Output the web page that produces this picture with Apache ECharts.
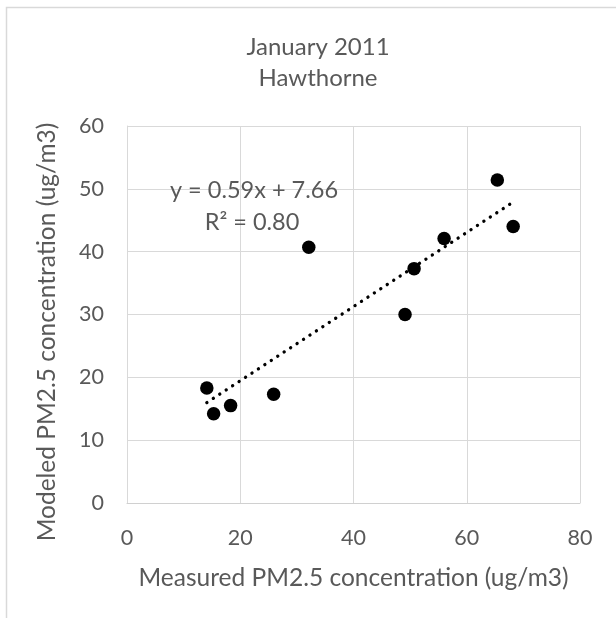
<!DOCTYPE html>
<html>
<head>
<meta charset="utf-8">
<script src="https://cdn.jsdelivr.net/npm/echarts@6/dist/echarts.min.js"></script>
<style>
    html, body { margin: 0; padding: 0; background: #fff; }
    #chart { width: 616px; height: 618px; }
</style>
</head>
<body>
<div id="chart"></div>
<script>
    // measured vs modeled PM2.5, Hawthorne, Jan 2011
    var measured = [14.1, 15.3, 18.3, 25.9, 32.1, 49.1, 50.7, 56.0, 65.4, 68.2];
    var modeled = [18.3, 14.2, 15.5, 17.3, 40.7, 30.0, 37.3, 42.1, 51.4, 44.0];
    var xTicks = [0, 20, 40, 60, 80];
    var yTicks = [0, 10, 20, 30, 40, 50, 60];
    // trendline as printed on the chart
    var slope = 0.59;
    var intercept = 7.66;
    var rSquared = '0.80';

    var textColor = '#595959';
    var fontName = 'Lato';

    var points = measured.map(function (x, i) {
        return [x, modeled[i]];
    });
    var xMin = Math.min.apply(null, measured);
    var xMax = Math.max.apply(null, measured);
    var trend = [
        [xMin, slope * xMin + intercept],
        [xMax, slope * xMax + intercept]
    ];

    var chart = echarts.init(document.getElementById('chart'));
    chart.setOption({
        animation: false,
        backgroundColor: '#fff',
        title: {
            text: 'January 2011\nHawthorne',
            left: 313,
            top: 27,
            textAlign: 'center',
            textStyle: {
                color: textColor,
                fontFamily: fontName,
                fontWeight: 'normal',
                fontSize: 24,
                lineHeight: 31
            }
        },
        grid: {
            left: 127,
            right: 36,
            top: 126,
            bottom: 115
        },
        xAxis: {
            type: 'value',
            min: xTicks[0],
            max: xTicks[xTicks.length - 1],
            interval: 20,
            name: 'Measured PM2.5 concentration (ug/m3)',
            nameLocation: 'middle',
            nameGap: 63,
            nameTextStyle: { color: textColor, fontFamily: fontName, fontSize: 24.5 },
            axisLine: { show: true, lineStyle: { color: '#d0d0d0', width: 1 } },
            axisTick: { show: false },
            axisLabel: { color: textColor, fontFamily: fontName, fontSize: 21.5, margin: 24 },
            splitLine: { show: true, lineStyle: { color: '#d9d9d9', width: 1 } }
        },
        yAxis: {
            type: 'value',
            min: yTicks[0],
            max: yTicks[yTicks.length - 1],
            interval: 10,
            axisLine: { show: true, lineStyle: { color: '#d9d9d9', width: 1 } },
            axisTick: { show: false },
            axisLabel: { color: textColor, fontFamily: fontName, fontSize: 21.5, margin: 23 },
            splitLine: { show: true, lineStyle: { color: '#d9d9d9', width: 1 } }
        },
        graphic: [
            {
                // chart frame, only top and left edges are inside the picture
                type: 'rect',
                shape: { x: 6.5, y: 7.5, width: 800, height: 800 },
                style: { fill: null, stroke: '#d9d9d9', lineWidth: 1.5 },
                silent: true
            },
            {
                // y axis title sits a bit below the plot middle in the original
                type: 'text',
                x: 47,
                y: 332,
                rotation: Math.PI / 2,
                style: {
                    text: 'Modeled PM2.5 concentration (ug/m3)',
                    fill: textColor,
                    font: '24.5px ' + fontName,
                    align: 'center',
                    verticalAlign: 'middle'
                }
            },
            {
                type: 'text',
                x: 254,
                y: 190,
                style: {
                    text: 'y = ' + slope + 'x + ' + intercept,
                    fill: textColor,
                    font: '23.5px ' + fontName,
                    align: 'center',
                    verticalAlign: 'middle'
                },
                z: 10
            },
            {
                type: 'text',
                x: 252,
                y: 222,
                style: {
                    text: 'R² = ' + rSquared,
                    fill: textColor,
                    font: '23.5px ' + fontName,
                    align: 'center',
                    verticalAlign: 'middle'
                },
                z: 10
            }
        ],
        series: [
            {
                name: 'trend',
                type: 'line',
                data: trend,
                symbol: 'none',
                z: 2,
                lineStyle: {
                    color: '#000',
                    width: 3.3,
                    type: [0.1, 7.6],
                    cap: 'round'
                }
            },
            {
                name: 'sites',
                type: 'scatter',
                data: points,
                symbol: 'circle',
                symbolSize: 13.5,
                z: 3,
                itemStyle: { color: '#000', opacity: 1 }
            }
        ]
    });
</script>
</body>
</html>
